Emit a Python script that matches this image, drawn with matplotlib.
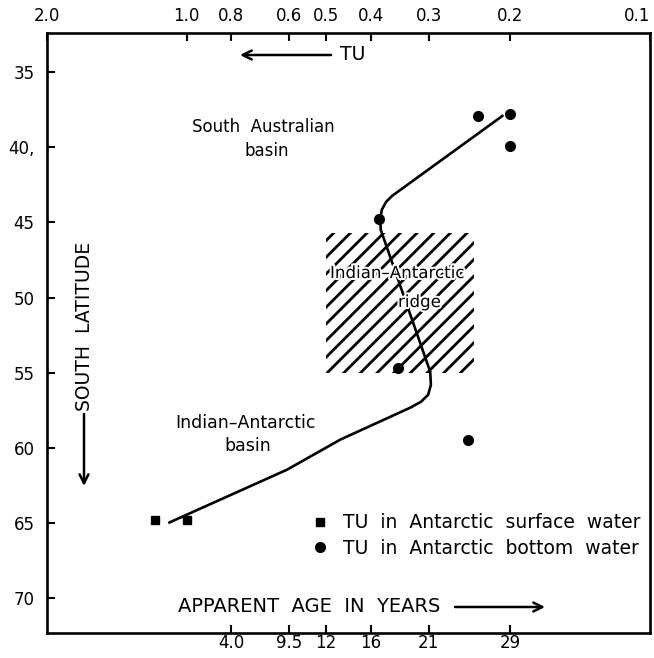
import matplotlib
matplotlib.use('Agg')
import matplotlib.pyplot as plt
import matplotlib.patheffects as pe
from matplotlib.patches import Rectangle
from matplotlib.ticker import NullLocator

# top axis: tritium units (log), bottom axis: apparent age at the same TU positions
tu_ticks = [2.0, 1.0, 0.8, 0.6, 0.5, 0.4, 0.3, 0.2, 0.1]
tu_labels = ['2.0', '1.0', '0.8', '0.6', '0.5', '0.4', '0.3', '0.2', '0.1']
age_tu = [0.8, 0.6, 0.5, 0.4, 0.3, 0.2]
age_labels = ['4.0', '9.5', '12', '16', '21', '29']
lat_ticks = [35, 40, 45, 50, 55, 60, 65, 70]
lat_labels = ['35', '40,', '45', '50', '55', '60', '65', '70']

# measurements
surface_tu = [1.17, 1.0]
surface_lat = [64.8, 64.8]
bottom_tu = [0.235, 0.20, 0.20, 0.385, 0.35, 0.247]
bottom_lat = [37.9, 37.8, 39.9, 44.8, 54.7, 59.5]

# hand drawn trend curve
curve_tu = [0.208, 0.360, 0.371, 0.379, 0.382, 0.381, 0.298, 0.297,
            0.301, 0.312, 0.329, 0.466, 0.607, 1.09]
curve_lat = [37.9, 43.23, 43.63, 44.16, 44.83, 45.49, 54.94, 55.81,
             56.47, 56.94, 57.33, 59.46, 61.46, 64.98]

# Indian-Antarctic ridge (hatched box)
ridge_tu = [0.24, 0.5]
ridge_lat = [45.7, 55.0]

W, H = 654, 658
def px(x, y):
    return (x / W, 1 - y / H)

plt.rcParams['hatch.linewidth'] = 2.0
fig = plt.figure(figsize=(6.54, 6.58), dpi=100)
ax = fig.add_axes([47 / W, (H - 633) / H, 603 / W, 600 / H])

ax.set_xscale('log')
ax.set_xlim(2.0, 0.1)
ax.set_ylim(72.33, 32.39)

ax.add_patch(Rectangle((ridge_tu[0], ridge_lat[0]), ridge_tu[1] - ridge_tu[0],
                       ridge_lat[1] - ridge_lat[0], fill=False, hatch='//',
                       edgecolor='black', linewidth=0))

ax.plot(curve_tu, curve_lat, color='black', lw=1.9, solid_joinstyle='round',
        solid_capstyle='round')
h1, = ax.plot(surface_tu, surface_lat, 's', ms=6, color='black', ls='none',
              label='TU  in  Antarctic  surface  water')
h2, = ax.plot(bottom_tu, bottom_lat, 'o', ms=7, color='black', ls='none',
              label='TU  in  Antarctic  bottom  water')

ax.legend(handles=[h1, h2], loc='upper left', bbox_to_anchor=(0.425, 0.212),
          frameon=False, fontsize=13.5, handlelength=1.0, handletextpad=0.7,
          labelspacing=0.36, borderaxespad=0)

ax.set_xticks(age_tu)
ax.set_xticklabels(age_labels)
ax.xaxis.set_minor_locator(NullLocator())
ax.set_yticks(lat_ticks)
ax.set_yticklabels(lat_labels)
ax.tick_params(axis='x', direction='in', length=6, width=1.5, labelsize=12, pad=1)
ax.tick_params(axis='y', direction='in', length=6, width=1.5, labelsize=12, pad=9)

ax2 = ax.twiny()
ax2.set_xscale('log')
ax2.set_xlim(2.0, 0.1)
ax2.set_xticks(tu_ticks)
ax2.set_xticklabels(tu_labels)
ax2.xaxis.set_minor_locator(NullLocator())
ax2.tick_params(axis='x', direction='in', length=6, width=1.5, labelsize=12, pad=6)
ax2.get_xticklabels()[-1].set_horizontalalignment('right')
for s in ax2.spines.values():
    s.set_visible(False)
for s in ax.spines.values():
    s.set_linewidth(1.9)

arrow = dict(arrowstyle='->', lw=1.8, color='black', shrinkA=0, shrinkB=0,
             mutation_scale=16)
fs = 12
fs_big = 13.5

# TU label with arrow
fig.text(*px(340, 55), 'TU', fontsize=fs_big, va='center', ha='left')
ax.annotate('', xy=px(240, 55), xytext=px(331, 55), xycoords='figure fraction',
            textcoords='figure fraction', arrowprops=arrow)

# south latitude label with arrow
fig.text(*px(84, 326), 'SOUTH  LATITUDE', fontsize=fs_big, rotation=90,
         va='center', ha='center')
ax.annotate('', xy=px(84, 486), xytext=px(84, 414), xycoords='figure fraction',
            textcoords='figure fraction', arrowprops=arrow)

# apparent age label with arrow
fig.text(*px(178, 607), 'APPARENT  AGE  IN  YEARS', fontsize=14,
         va='center', ha='left')
ax.annotate('', xy=px(545, 607), xytext=px(455, 607), xycoords='figure fraction',
            textcoords='figure fraction', arrowprops=arrow)

# region labels
fig.text(*px(192, 127), 'South  Australian', fontsize=fs, va='center', ha='left')
fig.text(*px(244, 151), 'basin', fontsize=fs, va='center', ha='left')
fig.text(*px(175, 423), 'Indian\u2013Antarctic', fontsize=12.5, va='center', ha='left')
fig.text(*px(224, 446), 'basin', fontsize=12.5, va='center', ha='left')
halo = [pe.withStroke(linewidth=3, foreground='white')]
fig.text(*px(330, 273), 'Indian\u2013Antarctic', fontsize=fs, va='center', ha='left',
         path_effects=halo)
fig.text(*px(398, 302), 'ridge', fontsize=fs, va='center', ha='left',
         path_effects=halo)

fig.savefig('out.png', dpi=100)
